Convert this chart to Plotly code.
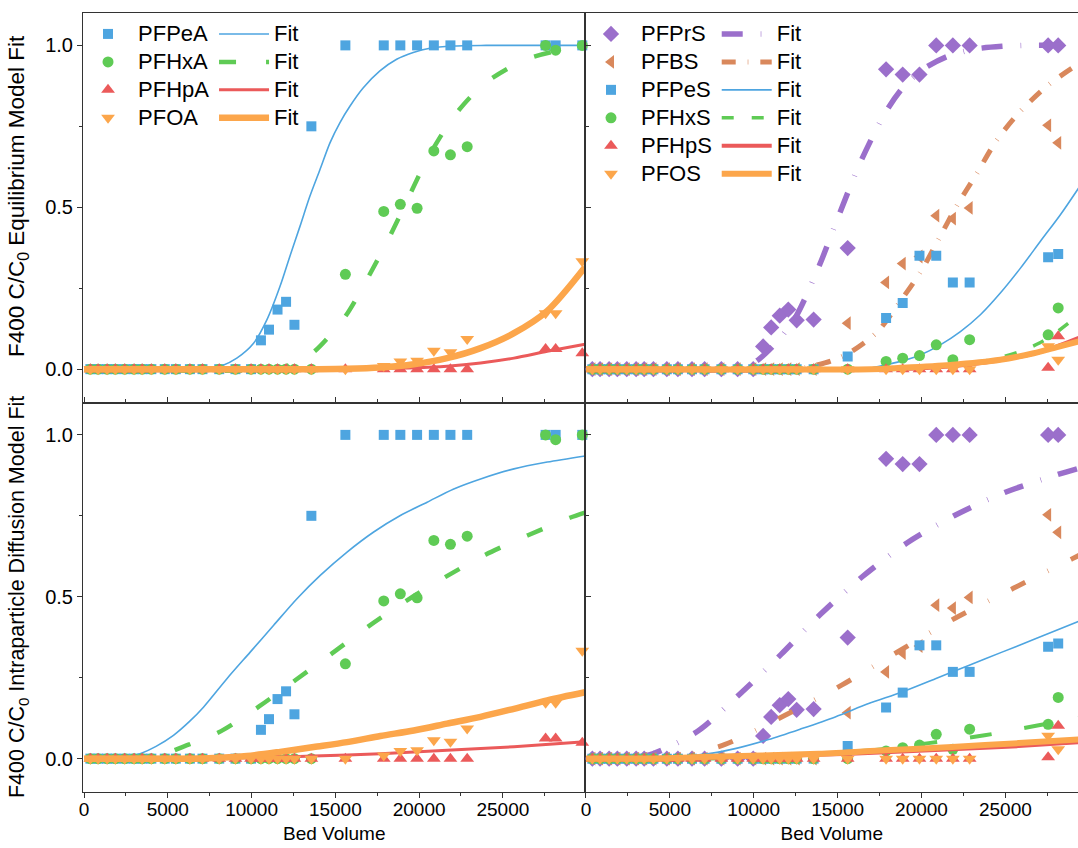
import plotly.graph_objects as go

# ---------------- data ----------------
bed_volume = [380, 840, 1380, 1870, 2430, 2990, 3470, 4020, 4820, 5480, 6320, 7070, 8070, 9040,
              9970, 10560, 11040, 11550, 12060, 12560, 13570, 15600, 17890, 18880, 19880, 20880,
              21870, 22870, 27550, 28150, 29740]
bed_volume_s = [380, 840, 1380, 1870, 2430, 2990, 3470, 4020, 4820, 5480, 6320, 7070, 8070, 9040,
                9970, 10560, 11040, 11550, 12060, 12560, 13570, 15600, 17890, 18880, 19880, 20880,
                21870, 22870, 27550, 28150]

pfpea = [0, 0, 0, 0, 0, 0, 0, 0, 0, 0, 0, 0, 0, 0, 0, 0.089, 0.122, 0.184, 0.208, 0.137, 0.750,
         1.0, 1.0, 1.0, 1.0, 1.0, 1.0, 1.0, 1.0, 1.0, 1.0]
pfhxa = [0, 0, 0, 0, 0, 0, 0, 0, 0, 0, 0, 0, 0, 0, 0, 0, 0, 0, 0, 0, 0,
         0.293, 0.487, 0.509, 0.497, 0.674, 0.662, 0.687, 1.0, 0.985, 1.0]
pfhpa = [0, 0, 0, 0, 0, 0, 0, 0, 0, 0, 0, 0, 0, 0, 0, 0, 0, 0, 0, 0, 0,
         0, 0, 0, 0, 0, 0, 0, 0.062, 0.062, 0.049]
pfoa = [0, 0, 0, 0, 0, 0, 0, 0, 0, 0, 0, 0, 0, 0, 0, 0, 0, 0, 0, 0, 0,
        0, 0.010, 0.024, 0.026, 0.057, 0.052, 0.093, 0.173, 0.173, 0.333]

pfprs = [0, 0, 0, 0, 0, 0, 0, 0, 0, 0, 0, 0, 0, 0, 0, 0.070, 0.129, 0.165, 0.184, 0.151, 0.153,
         0.374, 0.926, 0.910, 0.910, 1.0, 1.0, 1.0, 1.0, 1.0]
pfbs = [0, 0, 0, 0, 0, 0, 0, 0, 0, 0, 0, 0, 0, 0, 0, 0, 0, 0, 0, 0, 0,
        0.142, 0.268, 0.326, 0.348, 0.474, 0.465, 0.498, 0.753, 0.699]
pfpes = [0, 0, 0, 0, 0, 0, 0, 0, 0, 0, 0, 0, 0, 0, 0, 0, 0, 0, 0, 0, 0,
         0.039, 0.158, 0.204, 0.350, 0.350, 0.268, 0.268, 0.346, 0.356]
pfhxs = [0, 0, 0, 0, 0, 0, 0, 0, 0, 0, 0, 0, 0, 0, 0, 0, 0, 0, 0, 0, 0,
         0, 0.024, 0.034, 0.042, 0.075, 0.029, 0.091, 0.106, 0.189]
pfhps = [0, 0, 0, 0, 0, 0, 0, 0, 0, 0, 0, 0, 0, 0, 0, 0, 0, 0, 0, 0, 0,
         0, 0, 0, 0, 0, 0, 0, 0.004, 0.102]
pfos = [0, 0, 0, 0, 0, 0, 0, 0, 0, 0, 0, 0, 0, 0, 0, 0, 0, 0, 0, 0, 0,
        0, 0, 0, 0, 0, 0, 0, 0.071, 0.029]

# equilibrium model fits (top row)
eq_pfpea_bv = [0, 7500, 8130, 9120, 10120, 10920, 11700, 12290, 12890, 13480, 14080, 14680, 15270,
               15870, 16670, 17660, 18660, 19650, 20640, 22000, 24000, 29900]
eq_pfpea = [0, 0, 0.008, 0.034, 0.080, 0.153, 0.256, 0.349, 0.441, 0.534, 0.616, 0.699, 0.761,
            0.812, 0.869, 0.921, 0.957, 0.978, 0.991, 0.998, 1.0, 1.0]
eq_pfhxa_bv = [0, 11300, 12500, 13690, 15570, 16960, 18230, 19420, 20550, 22120, 23910, 26400, 28940, 29900]
eq_pfhxa = [0, 0, 0.017, 0.052, 0.161, 0.284, 0.408, 0.536, 0.655, 0.784, 0.882, 0.957, 0.990, 0.995]
eq_pfhpa_bv = [0, 14000, 15700, 17700, 19680, 21670, 23670, 25660, 27650, 29900]
eq_pfhpa = [0, 0, 0.001, 0.002, 0.004, 0.009, 0.019, 0.034, 0.055, 0.077]
eq_pfoa_bv = [0, 14000, 15700, 17690, 19680, 21670, 23670, 25660, 27650, 29900]
eq_pfoa = [0, 0, 0.001, 0.005, 0.015, 0.034, 0.065, 0.111, 0.180, 0.315]

eq_pfprs_bv = [0, 9000, 9500, 10340, 11400, 12520, 13910, 15110, 16350, 17840, 18900, 20030, 21500,
               23110, 24800, 26490, 29400]
eq_pfprs = [0, 0, 0.004, 0.032, 0.085, 0.163, 0.320, 0.480, 0.638, 0.792, 0.870, 0.924, 0.965,
            0.988, 0.997, 1.0, 1.0]
eq_pfbs_bv = [0, 12500, 13560, 14600, 15750, 17350, 18740, 19980, 21070, 22120, 23260, 24460, 25850,
              27490, 29170, 29400]
eq_pfbs = [0, 0, 0.010, 0.025, 0.052, 0.114, 0.210, 0.303, 0.406, 0.506, 0.601, 0.705, 0.794,
           0.875, 0.936, 0.942]
eq_pfpes_bv = [0, 15500, 16850, 17840, 18740, 19930, 21120, 22320, 23510, 24700, 25900, 27090, 28280, 29400]
eq_pfpes = [0, 0, 0.003, 0.013, 0.024, 0.044, 0.075, 0.116, 0.168, 0.235, 0.312, 0.395, 0.477, 0.562]
eq_pfhxs_bv = [0, 19000, 20500, 22320, 24110, 25900, 27000, 28000, 29400]
eq_pfhxs = [0, 0, 0.004, 0.013, 0.029, 0.055, 0.080, 0.112, 0.168]
eq_pfhps_bv = [0, 17000, 20000, 22000, 24000, 26000, 27500, 29400]
eq_pfhps = [0, 0, 0.003, 0.010, 0.022, 0.040, 0.060, 0.097]
eq_pfos_bv = [0, 17000, 18740, 21720, 24700, 26690, 28080, 29400]
eq_pfos = [0, 0, 0.004, 0.013, 0.029, 0.049, 0.068, 0.086]

# intraparticle diffusion model fits (bottom row)
df_pfpea_bv = [0, 2200, 2750, 3350, 4300, 5340, 6300, 7130, 8530, 9920, 11320, 12710, 14100, 15700,
               17290, 18880, 20480, 22070, 23670, 25660, 27650, 29900]
df_pfpea = [0, 0, 0.005, 0.015, 0.038, 0.072, 0.115, 0.159, 0.247, 0.329, 0.412, 0.494, 0.566, 0.638,
            0.700, 0.751, 0.792, 0.833, 0.864, 0.895, 0.916, 0.935]
df_pfhxa_bv = [0, 3800, 4700, 5790, 8180, 10470, 12610, 14800, 17040, 19280, 21630, 23960, 26500, 29000, 29900]
df_pfhxa = [0, 0, 0.012, 0.034, 0.085, 0.162, 0.242, 0.325, 0.411, 0.489, 0.563, 0.630, 0.690, 0.744, 0.760]
df_pfhpa_bv = [0, 7000, 10000, 13700, 17690, 21670, 25660, 29900]
df_pfhpa = [0, 0, 0.003, 0.008, 0.015, 0.026, 0.037, 0.052]
df_pfoa_bv = [0, 6500, 7730, 9720, 11710, 13710, 15700, 17690, 19680, 21670, 23670, 25660, 27650, 29900]
df_pfoa = [0, 0, 0.002, 0.008, 0.021, 0.036, 0.051, 0.070, 0.087, 0.108, 0.129, 0.154, 0.180, 0.205]

df_pfprs_bv = [0, 2300, 3000, 3970, 5300, 6800, 9240, 11630, 13960, 16450, 19130, 21970, 25000, 28090, 29400]
df_pfprs = [0, 0, 0.004, 0.015, 0.045, 0.090, 0.203, 0.322, 0.445, 0.561, 0.666, 0.751, 0.823, 0.877, 0.897]
df_pfbs_bv = [0, 3500, 4500, 6000, 8290, 11840, 15240, 18620, 21970, 25470, 28970, 29400]
df_pfbs = [0, 0, 0.002, 0.012, 0.044, 0.133, 0.227, 0.331, 0.433, 0.526, 0.617, 0.628]
df_pfpes_bv = [0, 3800, 4910, 6900, 8890, 10880, 12870, 14860, 16850, 18840, 20830, 22810, 24800, 26790, 29400]
df_pfpes = [0, 0, 0.005, 0.012, 0.031, 0.059, 0.093, 0.129, 0.170, 0.206, 0.247, 0.288, 0.329, 0.370, 0.425]
df_pfhxs_bv = [0, 7000, 10000, 13910, 17240, 20430, 23760, 26990, 29400]
df_pfhxs = [0, 0, 0.005, 0.016, 0.027, 0.048, 0.072, 0.103, 0.125]
df_pfhps_bv = [0, 5000, 9000, 13860, 17840, 21820, 25800, 29400]
df_pfhps = [0, 0, 0.004, 0.011, 0.019, 0.028, 0.038, 0.050]
df_pfos_bv = [0, 4000, 6900, 13860, 17840, 21820, 25800, 29400]
df_pfos = [0, 0, 0.005, 0.015, 0.026, 0.036, 0.048, 0.059]

# ---------------- styles ----------------
BLUE = "#4ea5e0"
GREEN = "#5fcb55"
RED = "#eb5a5a"
ORANGE = "#fca64b"
PURPLE = "#9b6fcb"
BROWN = "#d9885c"
FONT = "Arial, Liberation Sans, sans-serif"
LEG_TXT = '<span style="font-size:22px">{}</span>'

fig = go.Figure()


def add_pair(name, x, y, sym, size, color, fx, fy, lw, dash, xa, ya, legm, legf, clip):
    show = legm is not None
    fig.add_trace(go.Scatter(
        x=x, y=y, mode="markers", name=LEG_TXT.format(name),
        marker=dict(symbol=sym, size=size, color=color, line=dict(width=0)),
        xaxis=xa, yaxis=ya, cliponaxis=clip, showlegend=show,
        legend=legm if show else "legend"))
    fig.add_trace(go.Scatter(
        x=fx, y=fy, mode="lines", name=LEG_TXT.format("Fit"),
        line=dict(color=color, width=lw, dash=dash, shape="spline", smoothing=0.8),
        xaxis=xa, yaxis=ya, showlegend=show,
        legend=legf if show else "legend"))


SQ, CI, TR, DI, TL = 10, 11, 12, 12.5, 12

# top-left: carboxylates, equilibrium model
add_pair("PFPeA", bed_volume, pfpea, "square", SQ, BLUE, eq_pfpea_bv, eq_pfpea, 1.6, "solid", "x", "y", "legend", "legend2", False)
add_pair("PFHxA", bed_volume, pfhxa, "circle", CI, GREEN, eq_pfhxa_bv, eq_pfhxa, 4.5, "17px,30px", "x", "y", "legend", "legend2", False)
add_pair("PFHpA", bed_volume, pfhpa, "triangle-up", TR, RED, eq_pfhpa_bv, eq_pfhpa, 3, "solid", "x", "y", "legend", "legend2", False)
add_pair("PFOA", bed_volume, pfoa, "triangle-down", TR, ORANGE, eq_pfoa_bv, eq_pfoa, 6.5, "solid", "x", "y", "legend", "legend2", False)

# top-right: sulfonates, equilibrium model
add_pair("PFPrS", bed_volume_s, pfprs, "diamond", DI, PURPLE, eq_pfprs_bv, eq_pfprs, 5.5, "21px,18px,0.6px,18px", "x2", "y2", "legend3", "legend4", True)
add_pair("PFBS", bed_volume_s, pfbs, "triangle-left", TL, BROWN, eq_pfbs_bv, eq_pfbs, 5, "14px,12px,0.6px,12px", "x2", "y2", "legend3", "legend4", True)
add_pair("PFPeS", bed_volume_s, pfpes, "square", SQ, BLUE, eq_pfpes_bv, eq_pfpes, 1.6, "solid", "x2", "y2", "legend3", "legend4", True)
add_pair("PFHxS", bed_volume_s, pfhxs, "circle", CI, GREEN, eq_pfhxs_bv, eq_pfhxs, 3.5, "12px,18px", "x2", "y2", "legend3", "legend4", True)
add_pair("PFHpS", bed_volume_s, pfhps, "triangle-up", TR, RED, eq_pfhps_bv, eq_pfhps, 4, "solid", "x2", "y2", "legend3", "legend4", True)
add_pair("PFOS", bed_volume_s, pfos, "triangle-down", TR, ORANGE, eq_pfos_bv, eq_pfos, 6, "solid", "x2", "y2", "legend3", "legend4", True)

# bottom-left: carboxylates, diffusion model
add_pair("PFPeA", bed_volume, pfpea, "square", SQ, BLUE, df_pfpea_bv, df_pfpea, 1.6, "solid", "x3", "y3", None, None, False)
add_pair("PFHxA", bed_volume, pfhxa, "circle", CI, GREEN, df_pfhxa_bv, df_pfhxa, 4.5, "17px,29px", "x3", "y3", None, None, False)
add_pair("PFHpA", bed_volume, pfhpa, "triangle-up", TR, RED, df_pfhpa_bv, df_pfhpa, 3, "solid", "x3", "y3", None, None, False)
add_pair("PFOA", bed_volume, pfoa, "triangle-down", TR, ORANGE, df_pfoa_bv, df_pfoa, 6.5, "solid", "x3", "y3", None, None, False)

# bottom-right: sulfonates, diffusion model
add_pair("PFPrS", bed_volume_s, pfprs, "diamond", DI, PURPLE, df_pfprs_bv, df_pfprs, 5.5, "20px,18px,0.6px,18px", "x4", "y4", None, None, True)
add_pair("PFBS", bed_volume_s, pfbs, "triangle-left", TL, BROWN, df_pfbs_bv, df_pfbs, 5, "16px,25px,0.6px,25px", "x4", "y4", None, None, True)
add_pair("PFPeS", bed_volume_s, pfpes, "square", SQ, BLUE, df_pfpes_bv, df_pfpes, 1.6, "solid", "x4", "y4", None, None, True)
add_pair("PFHxS", bed_volume_s, pfhxs, "circle", CI, GREEN, df_pfhxs_bv, df_pfhxs, 4, "22px,33px", "x4", "y4", None, None, True)
add_pair("PFHpS", bed_volume_s, pfhps, "triangle-up", TR, RED, df_pfhps_bv, df_pfhps, 3.5, "solid", "x4", "y4", None, None, True)
add_pair("PFOS", bed_volume_s, pfos, "triangle-down", TR, ORANGE, df_pfos_bv, df_pfos, 6, "solid", "x4", "y4", None, None, True)

# ---------------- axes ----------------
AX = "#333333"
XL = [-60, 29930]
XR = [-30, 29330]
YR = [-0.103, 1.1]
LD = [0, 0.505]
RD = [0.505, 1.0]
TD = [0.5, 1.0]
BD = [0.0, 0.5]

xt_common = dict(showgrid=False, zeroline=False, showline=True, linecolor=AX, linewidth=1)
tick_font = dict(family=FONT, size=19, color="black")

xlab = dict(ticks="outside", ticklen=5, tickwidth=1, tickcolor=AX, mirror="ticks", dtick=5000, tick0=0,
            tickformat="d", ticklabelstandoff=-5,
            minor=dict(dtick=2500, ticklen=3, ticks="outside", tickcolor=AX),
            tickfont=tick_font, title=dict(text="Bed Volume", font=dict(family=FONT, size=19), standoff=7))

ylab_left = dict(showgrid=False, zeroline=False, showline=True, linecolor=AX, linewidth=1,
                 ticks="outside", ticklen=5, tickwidth=1, tickcolor=AX, mirror="ticks",
                 dtick=0.5, tick0=0, tickformat=".1f", range=YR,
                 minor=dict(dtick=0.25, ticklen=3, ticks="outside", tickcolor=AX),
                 tickfont=dict(family=FONT, size=20, color="black"))
ylab_right = dict(showgrid=False, zeroline=False, showline=True, linecolor=AX, linewidth=1,
                  ticks="", showticklabels=False, range=YR)

fig.update_layout(
    xaxis=dict(**xt_common, domain=LD, range=XL, anchor="y", mirror=True, ticks="", showticklabels=False),
    xaxis2=dict(**xt_common, domain=RD, range=XR, anchor="y2", mirror=True, ticks="", showticklabels=False),
    xaxis3=dict(**xt_common, domain=LD, range=XL, anchor="y3", **xlab),
    xaxis4=dict(**xt_common, domain=RD, range=XR, anchor="y4", **xlab),
    yaxis=dict(**ylab_left, domain=TD, anchor="x"),
    yaxis2=dict(**ylab_right, domain=TD, anchor="x2"),
    yaxis3=dict(**ylab_left, domain=BD, anchor="x3"),
    yaxis4=dict(**ylab_right, domain=BD, anchor="x4"),
)

leg_common = dict(yanchor="top", xanchor="left", bgcolor="rgba(0,0,0,0)", borderwidth=0,
                  font=dict(family=FONT, size=19.2, color="black"), itemwidth=50, tracegroupgap=0,
                  traceorder="normal")
fig.update_layout(
    legend=dict(**leg_common, x=-0.005, y=0.9975),
    legend2=dict(**leg_common, x=0.1317, y=0.9975),
    legend3=dict(**leg_common, x=0.5005, y=0.9975),
    legend4=dict(**leg_common, x=0.6369, y=0.9975),
)

fig.add_annotation(text="F400 C/C<sub>0</sub> Equilibrium Model Fit", xref="paper", yref="paper",
                   x=-0.0653, y=0.765, textangle=-90, showarrow=False, xanchor="center", yanchor="middle",
                   font=dict(family=FONT, size=22.5, color="black"))
fig.add_annotation(text="F400 C/C<sub>0</sub> Intraparticle Diffusion Model Fit", xref="paper", yref="paper",
                   x=-0.0653, y=0.2503, textangle=-90, showarrow=False, xanchor="center", yanchor="middle",
                   font=dict(family=FONT, size=21.5, color="black"))

fig.update_layout(
    width=1078, height=848,
    margin=dict(l=83, r=0, t=13, b=56, pad=0),
    paper_bgcolor="white", plot_bgcolor="white",
    font=dict(family=FONT, color="black"),
)

fig.write_html("out.html", config={"displayModeBar": False},
               post_script="document.body.style.margin='0px';")
